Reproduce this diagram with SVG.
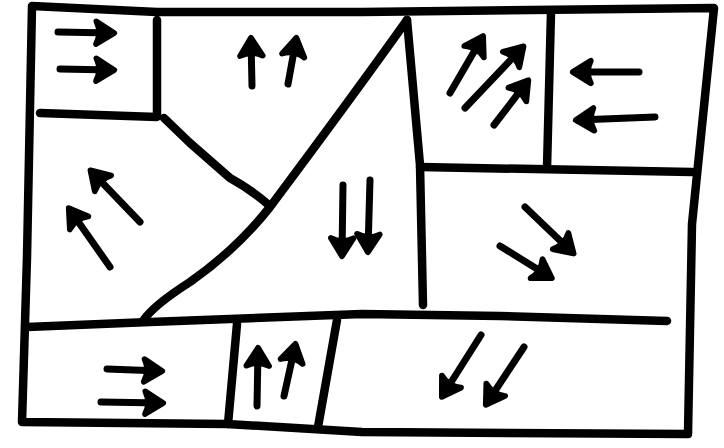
<svg xmlns="http://www.w3.org/2000/svg" width="724" height="448" viewBox="0 0 724 448">
<style>
.ln{fill:none;stroke:#000;stroke-width:8.5;stroke-linecap:round;stroke-linejoin:round}
.ar{fill:none;stroke:#000;stroke-width:7;stroke-linecap:round;marker-end:url(#hd)}
</style>
<defs>
<marker id="hd" markerUnits="userSpaceOnUse" markerWidth="34" markerHeight="34" viewBox="-6 -6 30 30" refX="14" refY="10" orient="auto">
<path d="M0,0 L16,10 L0,20 Q5,10 0,0 Z" fill="#000" stroke="#000" stroke-width="5" stroke-linejoin="round"/>
</marker>
</defs>
<rect width="724" height="448" fill="#fff"/>
<g id="lines">
<path class="ln" d="M32,6 L157,12 L362,12 L714,8 L692,224 L688,434 L362,432 L227,424 L22,422 L27,257 Z"/>
<path class="ln" d="M157,20 L157,116"/>
<path class="ln" d="M40,113 L157,117"/>
<path class="ln" d="M164,118 L190,143 L230,178 Q252,190 270,206"/>
<path class="ln" d="M407,20 C375,65 320,140 270,207 C240,245 210,268 190,282 C165,298 150,310 143,321"/>
<path class="ln" d="M407,20 L420,165 L423,305"/>
<path class="ln" d="M420,167 L692,172"/>
<path class="ln" d="M551,12 L547,168"/>
<path class="ln" d="M27,327 L150,322 L362,314 L500,316 L667,321"/>
<path class="ln" d="M237,324 L228,424"/>
<path class="ln" d="M337,320 L318,427"/>
</g>
<g id="arrows-top-left">
<line class="ar" x1="58" y1="32" x2="112" y2="33"/>
<line class="ar" x1="60" y1="69" x2="112" y2="70"/>
</g>
<g id="arrows-top-middle">
<line class="ar" x1="252" y1="86" x2="251" y2="40"/>
<line class="ar" x1="288" y1="84" x2="296" y2="40"/>
</g>
<g id="arrows-top-right-a">
<line class="ar" x1="450" y1="93" x2="482" y2="38"/>
<line class="ar" x1="465" y1="108" x2="522" y2="48"/>
<line class="ar" x1="494" y1="125" x2="527" y2="82"/>
</g>
<g id="arrows-top-right-b">
<line class="ar" x1="639" y1="72" x2="575" y2="72"/>
<line class="ar" x1="655" y1="117" x2="578" y2="120"/>
</g>
<g id="arrows-left">
<line class="ar" x1="140" y1="222" x2="92" y2="172"/>
<line class="ar" x1="110" y1="267" x2="70" y2="210"/>
</g>
<g id="arrows-triangle">
<line class="ar" x1="343" y1="185" x2="342" y2="254"/>
<line class="ar" x1="370" y1="180" x2="368" y2="250"/>
</g>
<g id="arrows-right-middle">
<line class="ar" x1="525" y1="207" x2="572" y2="252"/>
<line class="ar" x1="500" y1="246" x2="550" y2="277"/>
</g>
<g id="arrows-bottom-left">
<line class="ar" x1="107" y1="369" x2="160" y2="371"/>
<line class="ar" x1="101" y1="402" x2="161" y2="403"/>
</g>
<g id="arrows-bottom-middle">
<line class="ar" x1="257" y1="406" x2="258" y2="350"/>
<line class="ar" x1="284" y1="396" x2="295" y2="346"/>
</g>
<g id="arrows-bottom-right">
<line class="ar" x1="481" y1="335" x2="443" y2="395"/>
<line class="ar" x1="524" y1="347" x2="487" y2="403"/>
</g>
</svg>
